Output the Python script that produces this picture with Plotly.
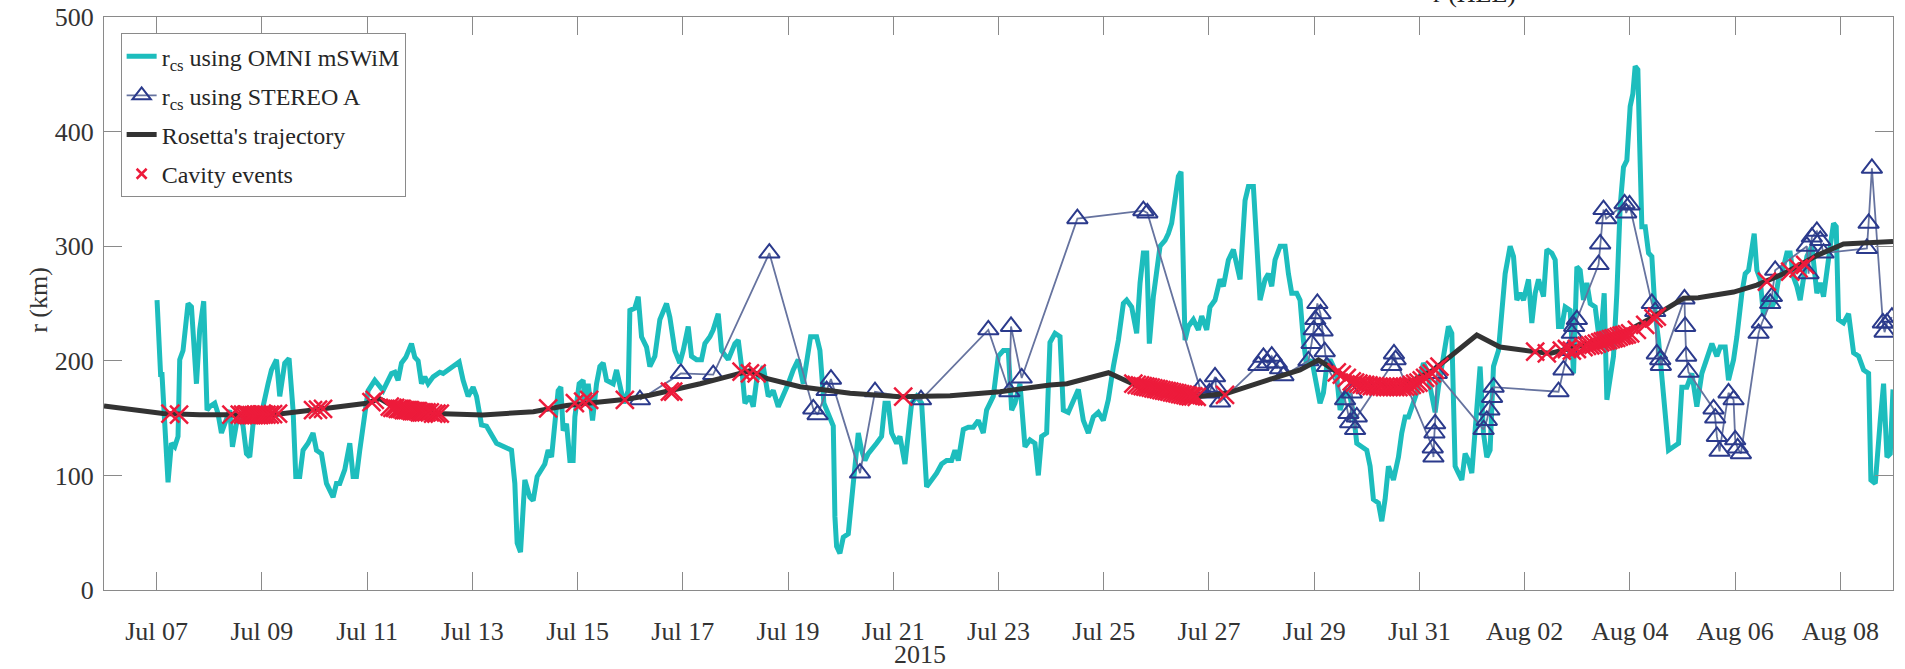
import pandas as pd
import plotly.graph_objects as go

BASE = pd.Timestamp("2015-07-06")

# ---------------- data (day offsets from 2015-07-06 00:00) ----------------
omni_day = [1.008, 1.059, 1.078, 1.10, 1.217, 1.281, 1.344, 1.407, 1.439, 1.502, 1.597, 1.662, 1.757, 1.819, 1.895,
            1.958, 2.010, 2.105, 2.167, 2.232, 2.295, 2.390, 2.441, 2.517, 2.580, 2.643, 2.707, 2.770, 2.833, 2.897,
            2.960, 3.023, 3.118, 3.183, 3.278, 3.340, 3.435, 3.517, 3.593, 3.645, 3.720, 3.783, 3.878, 3.973, 4.038,
            4.133, 4.228, 4.354, 4.418, 4.481, 4.576, 4.671, 4.734, 4.798, 4.861, 4.956, 5.019, 5.146, 5.209, 5.304,
            5.369, 5.464, 5.527, 5.589, 5.654, 5.736, 5.844, 5.907, 5.970, 6.034, 6.097, 6.160, 6.255, 6.382, 6.445,
            6.540, 6.635, 6.749, 6.825, 6.920, 7.015, 7.080, 7.175, 7.270, 7.460, 7.586, 7.745, 7.808, 7.852, 7.916,
            7.998, 8.093, 8.156, 8.232, 8.316, 8.378, 8.441, 8.506, 8.568, 8.631, 8.682, 8.726, 8.791, 8.854, 8.916,
            8.949, 9.030, 9.106, 9.139, 9.202, 9.285, 9.361, 9.424,
            9.487, 9.551, 9.677, 9.741, 9.804, 9.880, 9.963, 9.994, 10.089, 10.153, 10.216, 10.311, 10.374, 10.469,
            10.564, 10.691, 10.754, 10.849, 10.944, 11.008, 11.103, 11.166, 11.261, 11.356, 11.420, 11.515, 11.578,
            11.673, 11.737, 11.864, 11.990, 12.054, 12.117, 12.181, 12.276, 12.339, 12.403, 12.529, 12.624, 12.719,
            12.814, 12.909, 13.004, 13.099, 13.194, 13.289, 13.353, 13.429, 13.543, 13.606, 13.682, 13.765, 13.860,
            13.891, 13.923, 13.986, 14.050, 14.145, 14.208, 14.272, 14.335, 14.398, 14.462, 14.525, 14.588, 14.683,
            14.778, 14.842, 14.905, 14.969, 15.064, 15.127, 15.222, 15.285, 15.349, 15.444, 15.539, 15.634, 15.729,
            15.824, 15.919, 16.014, 16.109, 16.172, 16.236, 16.331, 16.426, 16.521, 16.616, 16.711, 16.774, 16.901,
            16.996, 17.091, 17.186, 17.250, 17.313, 17.408, 17.503, 17.598, 17.693, 17.757, 17.820, 17.915, 17.978,
            18.074, 18.169, 18.232, 18.327, 18.422, 18.517, 18.612, 18.707, 18.802, 18.897, 18.992, 19.087, 19.183,
            19.278, 19.373, 19.436, 19.531, 19.626, 19.690, 19.753, 19.817, 19.867, 19.943, 20.006, 20.070, 20.165,
            20.228, 20.291, 20.355, 20.418, 20.469, 20.513, 20.545, 20.608, 20.703, 20.798, 20.862, 20.957, 21.020,
            21.115, 21.210, 21.274, 21.369, 21.464, 21.527, 21.591, 21.686, 21.749, 21.844, 21.908, 21.971, 22.066,
            22.129, 22.193, 22.256, 22.351, 22.446, 22.510, 22.573, 22.668, 22.731, 22.795, 22.858, 22.953, 23.016,
            23.111, 23.175, 23.238, 23.302, 23.365, 23.428, 23.492, 23.587, 23.650, 23.745, 23.809, 23.904, 23.999,
            24.062, 24.125, 24.220, 24.284, 24.347, 24.411, 24.506, 24.601, 24.664, 24.728, 24.791, 24.854, 24.949,
            25.013, 25.076, 25.139, 25.234, 25.298, 25.361, 25.456, 25.551, 25.615, 25.678, 25.741, 25.805, 25.868,
            25.932, 25.995, 26.058, 26.153, 26.217, 26.280, 26.343, 26.407, 26.502,
            26.629, 26.724, 26.788, 26.851, 26.914, 26.978, 27.073, 27.136, 27.200, 27.263, 27.358, 27.421, 27.516,
            27.580, 27.643, 27.706, 27.770, 27.865, 27.928, 27.992, 28.055, 28.118, 28.182, 28.245, 28.340, 28.435,
            28.511, 28.562, 28.625, 28.688, 28.752, 28.815, 28.878, 28.942, 29.005, 29.056, 29.100, 29.151, 29.183,
            29.227, 29.291, 29.354, 29.417, 29.481, 29.544, 29.607, 29.671, 29.734, 29.829, 29.924, 29.987, 30.082,
            30.177, 30.272, 30.367, 30.463, 30.558, 30.653, 30.716, 30.811, 30.874, 30.970, 31.033, 31.128, 31.191,
            31.255, 31.318, 31.362, 31.413, 31.476, 31.539, 31.603, 31.698, 31.761, 31.824, 31.888, 31.983, 32.046,
            32.110, 32.173, 32.236, 32.300, 32.363, 32.458, 32.553, 32.617, 32.680, 32.807, 32.870, 32.921, 32.965,
            33.060, 33.156, 33.251, 33.346, 33.441, 33.536, 33.580, 33.663, 33.758, 33.821, 33.885, 33.948, 34.0]
omni_r = [253, 195, 186, 190, 94, 128, 125, 134, 201, 209, 250, 247, 180, 227, 252,
          157, 160, 163, 154, 137, 145, 157, 125, 145, 154, 143, 119, 116, 145, 148,
          154, 160, 180, 192, 201, 169, 198, 202, 157, 99, 99, 122, 128, 137, 122,
          119, 93, 81, 93, 93, 105, 128, 99, 99, 122, 151, 174, 183, 180, 174,
          180, 189, 190, 183, 198, 203, 215, 203, 200, 180, 186, 180, 186, 190, 189,
          192, 196, 199, 183, 169, 177, 169, 144, 143, 128, 125, 122, 93, 41, 33,
          96, 81, 78, 99, 105, 110, 122, 116, 145, 174, 177, 139, 145, 113, 113,
          151, 180, 183, 163, 180, 148, 180, 195,
          198, 183, 180, 192, 180, 163, 174, 244, 246, 256, 221, 212, 195, 204,
          236, 250, 238, 209, 198, 209, 230, 204, 201, 201, 215, 221, 227,
          241, 209, 201, 215, 218, 195, 163, 169, 160, 183, 195, 169, 174,
          160, 169, 180, 192, 201, 180, 198, 221, 221, 209, 163, 154, 143,
          64, 38, 32, 46, 49, 78, 113, 137, 122, 113, 119, 122, 128,
          134, 163, 163, 137, 128, 134, 110, 140, 163, 169, 163, 90, 96,
          102, 110, 113, 113, 122, 113, 140, 142, 142, 148, 137, 157, 169,
          204, 209, 209, 157, 163, 180, 125, 131, 128, 100, 134, 137, 216,
          224, 221, 157, 155, 166, 175, 148, 137, 151, 155, 148, 166, 195,
          218, 250, 253, 247, 224, 268, 294, 294, 215, 256, 276, 300, 305,
          311, 320, 340, 361, 365, 265, 218, 230, 236, 227, 239, 227, 247,
          253, 271, 265, 288, 297, 282, 271, 340, 352, 352, 300, 253, 271,
          276, 265, 288, 300, 300, 276, 259, 259, 253, 218, 195, 201, 186,
          163, 172, 195, 201, 195, 186, 157, 172, 175, 155, 128, 125, 122,
          108, 79, 76, 60, 79, 108, 96, 116, 137, 151, 151, 160, 172,
          186, 198, 192, 166, 155, 177, 207, 230, 224, 108, 102, 96, 119,
          113, 102, 137, 195, 137, 116, 122, 195, 209,
          276, 300, 291, 253, 259, 253, 271, 233, 259, 271, 256, 297, 294,
          288, 230, 230, 247, 244, 189, 282, 279, 253, 268, 250, 247, 212,
          259, 166, 189, 204, 259, 335, 369, 375, 422, 433, 457, 454, 393,
          317, 317, 294, 291, 241, 218, 189, 160, 122, 125, 128, 177, 177,
          189, 160, 189, 204, 215, 204, 212, 212, 183, 201, 221, 259, 276,
          279, 300, 311, 279, 271, 239, 256, 247, 253, 271, 276, 294, 294,
          273, 265, 253, 276, 291, 300, 259, 268, 256, 300, 320, 317, 236,
          233, 241, 207, 204, 192, 189, 96, 93, 148, 180, 116, 119, 175]

stereo_day = [10.185, 10.964, 11.578, 12.645, 13.480, 13.562, 13.733, 13.816, 14.368, 14.653, 15.527, 16.807,
              17.207, 17.238, 17.441, 18.499, 19.753, 19.829, 20.830, 21.008, 21.115, 21.134, 21.210, 21.940,
              22.035, 22.111, 22.193, 22.288, 22.351, 22.415, 22.890, 22.950, 22.990, 23.020, 23.060, 23.120,
              23.160, 23.200, 23.240, 23.587, 23.650, 23.682, 23.714, 23.777, 23.809, 24.466, 24.516, 24.547,
              25.253, 25.266, 25.285, 25.298, 25.329, 26.220, 26.280, 26.330, 26.380, 26.410, 27.643, 27.738,
              27.833, 27.897, 27.941, 27.992, 28.404, 28.435, 28.498, 28.549, 28.898, 28.929, 28.993, 29.417,
              29.481, 29.512, 29.576, 29.588, 30.037, 30.050, 30.069, 30.113, 30.589, 30.621, 30.653, 30.703,
              30.874, 30.970, 31.001, 31.046, 31.109, 31.445, 31.508, 31.666, 31.698, 31.761, 32.363, 32.395,
              32.458, 32.553, 32.617, 32.680, 33.504, 33.536, 33.599, 33.808, 33.840, 33.885, 33.980]
stereo_r = [166, 189, 188, 294, 158, 153, 174, 184, 102, 173, 166, 227,
            173, 230, 185, 324, 331, 329, 176, 172, 186, 177, 164, 196,
            203, 198, 204, 198, 193, 187, 200, 215, 227, 236, 250, 241,
            226, 208, 195, 166, 154, 146, 172, 140, 151, 196, 206, 201,
            124, 116, 137, 145, 189, 140, 148, 157, 168, 177, 173, 192,
            209, 224, 230, 236, 284, 302, 332, 324, 337, 329, 336, 250,
            243, 206, 201, 196, 254, 230, 204, 190, 158, 150, 134, 121,
            172, 166, 131, 124, 119, 224, 233, 250, 256, 279, 300, 276,
            308, 313, 305, 294, 298, 320, 368, 233, 225, 233, 238]

traj_day = [0.0, 1.12, 1.82, 3.21, 3.97, 4.99, 5.24, 5.50, 6.30, 7.20, 8.16, 8.79, 9.42, 9.93, 10.37, 10.82,
            11.33, 11.96, 12.28, 12.59, 13.23, 14.18, 15.13, 16.08, 17.03, 17.98, 18.30, 19.09, 19.69, 20.77,
            21.34, 22.10, 22.73, 23.08, 23.37, 23.81, 24.63, 25.27, 26.09, 26.53, 27.17, 27.48, 28.12, 28.75,
            29.39, 30.02, 30.30, 30.97, 31.41, 31.92, 32.56, 33.06, 34.0]
traj_r = [160.5, 154, 153, 153, 157, 163, 167, 160, 154, 152.7, 155.6, 161, 164, 166.5, 170, 174.5,
          180, 187.5, 191.3, 184.6, 177.4, 171.6, 168.7, 169.6, 173, 178.9, 180, 189.6, 177, 168.7,
          171.6, 183, 192, 200.7, 192, 180, 177.4, 192, 222.5, 212, 208, 206.5, 213.8, 221,
          237, 254.5, 255, 260, 266, 276, 292, 302, 304]

cavity_day = [1.262, 1.426, 2.421, 2.580, 2.643, 2.707, 2.757, 2.802, 2.846, 2.897, 2.947, 2.992, 3.036, 3.087,
              3.150, 3.213, 3.308, 3.973, 4.068, 4.163, 5.083, 5.146,
              5.432, 5.482, 5.533, 5.584, 5.622, 5.660, 5.698, 5.736, 5.774, 5.812, 5.850, 5.888, 5.926, 5.964,
              6.002, 6.040, 6.078, 6.129, 6.192, 6.255, 6.318, 6.382,
              8.441, 8.949, 9.106, 9.220, 9.899, 10.755, 10.818, 12.117, 12.276, 12.403, 15.189,
              19.563, 19.627, 19.690, 19.741, 19.791, 19.842, 19.893, 19.943, 19.994, 20.045, 20.095, 20.146,
              20.197, 20.247, 20.298, 20.349, 20.399, 20.450, 20.501, 20.552, 20.602, 20.653, 20.704, 20.767,
              21.305,
              23.429, 23.524, 23.619, 23.714, 23.777, 23.840, 23.904, 23.967, 24.031, 24.094, 24.157, 24.221,
              24.284, 24.347, 24.411, 24.474, 24.538, 24.601, 24.664, 24.728, 24.791, 24.854, 24.918, 24.981,
              25.044, 25.108, 25.171, 25.234, 25.298, 25.380,
              27.200, 27.421, 27.706, 27.802, 27.897, 27.992,
              28.118, 28.182, 28.245, 28.309, 28.372, 28.435, 28.486, 28.537, 28.587, 28.638, 28.688, 28.739,
              28.790, 28.841, 28.891, 28.942, 29.005, 29.132, 29.291, 29.449, 29.512,
              31.603, 32.046, 32.205, 32.331]
cavity_r = [154, 153, 153, 153, 153, 153, 152.5, 152.5, 152.5, 152.5, 152.5, 153, 153, 153,
            153, 153.5, 154, 157, 157.5, 158, 164, 166,
            160, 159, 159, 158, 158, 158, 157, 157, 157, 157, 156, 156, 156, 156,
            155, 155, 155, 155, 155, 154, 154, 154,
            158.5, 163, 164.4, 165.8, 165.8, 173, 173, 190.5, 189, 189, 168.7,
            180, 179, 178.5, 178, 177.5, 177, 176.5, 176, 175.5, 175, 174.5, 174,
            173.5, 173, 172.5, 172, 171.5, 171, 170.5, 170, 169.5, 169, 169, 168.5,
            170.2,
            190, 188, 185, 182, 181, 180, 179.5, 179, 178.5, 178, 178, 177.5,
            177.5, 177, 177, 177, 177, 177, 177.5, 177.5, 178, 179, 180, 181,
            183, 185, 187, 189, 192, 195,
            208, 206.5, 208.9, 210.3, 208.9, 210.3,
            212, 213, 213.5, 214, 215, 216, 217, 217.5, 218, 219, 219.5, 220,
            221, 222, 222.5, 223, 224, 226.9, 231.3, 237.1, 238.5,
            269, 277.8, 280.7, 283.6]

y_ticks = [0, 100, 200, 300, 400, 500]


def to_dt(days):
    return [BASE + pd.Timedelta(days=d) for d in days]


FONT = "Liberation Serif"
AXC = "#8a8a8a"
RED = "#ED1B3B"

fig = go.Figure()
fig.add_trace(go.Scatter(x=to_dt(omni_day), y=omni_r, mode="lines",
                         name="r<sub>cs</sub> using OMNI mSWiM", legendgroup="a",
                         line=dict(color="#1DBDBD", width=5)))
fig.add_trace(go.Scatter(x=to_dt(stereo_day), y=stereo_r, mode="lines+markers",
                         name="r<sub>cs</sub> using STEREO A", legendgroup="b",
                         line=dict(color="#66739f", width=1.8),
                         marker=dict(symbol="triangle-up-open", size=18, color="#2B3A8C",
                                     line=dict(color="#2B3A8C", width=2))))
fig.add_trace(go.Scatter(x=to_dt(traj_day), y=traj_r, mode="lines",
                         name="Rosetta's trajectory", legendgroup="c",
                         line=dict(color="#333333", width=5)))
fig.add_trace(go.Scatter(x=to_dt(cavity_day), y=cavity_r, mode="markers",
                         name="Cavity events", legendgroup="d", showlegend=False,
                         marker=dict(symbol="x-thin-open", size=18, color=RED,
                                     line=dict(color=RED, width=2.5))))
# legend proxy (smaller symbol, as in the reference legend)
fig.add_trace(go.Scatter(x=[None], y=[None], mode="markers",
                         name="Cavity events", legendgroup="d",
                         marker=dict(symbol="x-thin-open", size=10, color=RED,
                                     line=dict(color=RED, width=2.5))))

fig.update_layout(
    template="none",
    width=1905, height=669,
    margin=dict(l=104, r=12, t=17, b=79, autoexpand=False),
    paper_bgcolor="white", plot_bgcolor="white",
    font=dict(family=FONT, size=26, color="#333333"),
    showlegend=True,
    legend=dict(x=0.0093, y=0.972, xanchor="left", yanchor="top",
                bgcolor="white", bordercolor="#8a8a8a", borderwidth=1,
                font=dict(family=FONT, size=24, color="#262626"),
                tracegroupgap=5),
    xaxis=dict(type="date", range=[BASE, BASE + pd.Timedelta(days=34)],
               tick0="2015-07-07", dtick=2 * 86400000, tickformat="%b %d",
               ticks="inside", ticklen=18, tickcolor=AXC, tickwidth=1.2,
               showline=True, linecolor=AXC, linewidth=1.3, mirror="ticks",
               showgrid=False, zeroline=False, automargin=False, ticklabelstandoff=18,
               tickfont=dict(family=FONT, size=26, color="#333333")),
    yaxis=dict(range=[0, 500], tickvals=y_ticks,
               ticks="inside", ticklen=18, tickcolor=AXC, tickwidth=1.2,
               showline=True, linecolor=AXC, linewidth=1.3, mirror="ticks",
               showgrid=False, zeroline=False, automargin=False, ticklabelstandoff=4,
               tickfont=dict(family=FONT, size=26, color="#333333")),
)

fig.add_annotation(text="r (km)", xref="paper", yref="paper", x=-0.037, y=0.506,
                   textangle=-90, showarrow=False, xanchor="center", yanchor="middle",
                   font=dict(family=FONT, size=26, color="#333333"))
fig.add_annotation(text="2015", xref="paper", yref="paper", x=0.456, y=-0.113,
                   showarrow=False, xanchor="center", yanchor="middle",
                   font=dict(family=FONT, size=26, color="#333333"))
fig.add_annotation(text="r (HEE)", xref="paper", yref="paper", x=0.766, y=1.012,
                   showarrow=False, xanchor="center", yanchor="bottom",
                   font=dict(family=FONT, size=26, color="#222222"))

fig.write_html("out.html", config={"displayModeBar": False},
               post_script="document.body.style.margin='0';document.body.style.overflow='hidden';")
